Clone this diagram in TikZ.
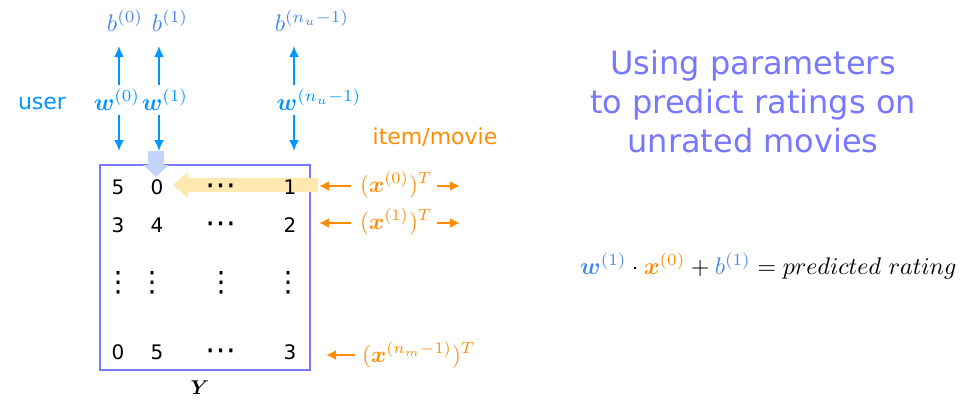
\RequirePackage{fix-cm}
\documentclass[tikz,border=0pt]{standalone}
\usepackage{amsmath,bm}
\usepackage{graphicx}
\usepackage{fontspec}
\setmainfont{DejaVu Sans}
\usetikzlibrary{arrows.meta}
\definecolor{ublue}{RGB}{0,150,255}
\definecolor{bblue}{RGB}{70,135,240}
\definecolor{orng}{RGB}{255,140,0}
\definecolor{boxc}{RGB}{120,120,255}
\definecolor{ttl}{RGB}{120,120,255}
\definecolor{ylw}{RGB}{255,232,175}
\definecolor{lblue}{RGB}{195,212,250}
\newcommand{\mz}[2][2.4]{\scalebox{#1}{$#2$}}
\begin{document}
\begin{tikzpicture}[x=1pt,y=-1pt,
 barrow/.style={ublue,line width=2pt,-{Latex[length=11pt,width=10pt]}},
 oarrow/.style={orng,line width=2pt,-{Latex[length=10pt,width=10pt]}},
 num/.style={font=\fontsize{20}{22}\selectfont,inner sep=0pt,anchor=base},
 dotc/.style={font=\fontsize{31}{33}\selectfont,inner sep=0pt,anchor=base},
 dotv/.style={font=\fontsize{28}{30}\selectfont,inner sep=0pt},
 wlab/.style={text=ublue,inner sep=0pt},
 blab/.style={text=bblue,inner sep=0pt},
 xlab/.style={text=orng,inner sep=0pt,anchor=west},
]
\useasboundingbox (0,0) rectangle (968,405);

% bias labels
\node[blab] (b0) at (125,21) {\mz{b^{(0)}}};
\node[blab] (b1) at (170,21) {\mz{b^{(1)}}};
\node[blab] (bn) at (312,21) {\mz{b^{(n_u-1)}}};
% weight labels
\node[wlab] (w0) at (117,100) {\mz{\bm{w}^{(0)}}};
\node[wlab] (w1) at (165,100) {\mz{\bm{w}^{(1)}}};
\node[wlab] (wn) at (319,100) {\mz{\bm{w}^{(n_u-1)}}};
\node[text=ublue,font=\fontsize{22}{26}\selectfont,inner sep=0pt] (user) at (42,103) {user};

% arrow end points
\foreach \n/\x in {0/119,1/159,n/294}{
  \coordinate (us\n) at (\x,85);
  \coordinate (ue\n) at (\x,46);
  \coordinate (ds\n) at (\x,115);
  \coordinate (de\n) at (\x,151);
}
\foreach \n in {0,1,n}{
  \draw[barrow] (us\n) -- (ue\n);
  \draw[barrow] (ds\n) -- (de\n);
}

% matrix box
\node[draw=boxc,line width=2pt,minimum width=210pt,minimum height=205pt,inner sep=0pt] (Y) at (204.5,267.5) {};

% highlight arrows
\fill[ylw] (318,178) -- (188,178) -- (188,172) -- (173,185) -- (188,198) -- (188,192) -- (318,192) -- cycle;
\fill[lblue] (148,151) rectangle (164,165);
\fill[lblue] (143,165) -- (169,165) -- (156,177) -- cycle;

% matrix entries
\node[num] (m00) at (118,194) {5};
\node[num] (m01) at (157,194) {0};
\node[dotc] (m02) at (221,195) {⋯};
\node[num] (m03) at (290,194) {1};
\node[num] (m10) at (118,232) {3};
\node[num] (m11) at (157,232) {4};
\node[dotc] (m12) at (221,233) {⋯};
\node[num] (m13) at (290,232) {2};
\node[dotv] (m20) at (118,283) {⋮};
\node[dotv] (m21) at (152,283) {⋮};
\node[dotv] (m22) at (221,283) {⋮};
\node[dotv] (m23) at (288,283) {⋮};
\node[num] (m30) at (118,359) {0};
\node[num] (m31) at (157,359) {5};
\node[dotc] (m32) at (221,360) {⋯};
\node[num] (m33) at (290,359) {3};
\node[inner sep=0pt] (ylab) at (200,388) {\mz[2.0]{\bm{Y}}};

% item vectors
\node[text=orng,font=\fontsize{22}{26}\selectfont,inner sep=0pt] (item) at (435,137) {item/movie};
\node[xlab] (x0) at (360,185) {\mz[2.3]{(\bm{x}^{(0)})^T}};
\node[xlab] (x1) at (360,222) {\mz[2.3]{(\bm{x}^{(1)})^T}};
\node[xlab] (xn) at (362,355) {\mz[2.3]{(\bm{x}^{(n_m-1)})^T}};
\coordinate (l0s) at (351,186); \coordinate (l0e) at (319,186);
\coordinate (r0s) at (437,186); \coordinate (r0e) at (460,186);
\coordinate (l1s) at (351,223); \coordinate (l1e) at (319,223);
\coordinate (r1s) at (437,223); \coordinate (r1e) at (460,223);
\coordinate (lns) at (355,355); \coordinate (lne) at (326,355);
\draw[oarrow] (l0s) -- (l0e);
\draw[oarrow] (r0s) -- (r0e);
\draw[oarrow] (l1s) -- (l1e);
\draw[oarrow] (r1s) -- (r1e);
\draw[oarrow] (lns) -- (lne);

% title
\node[text=ttl,font=\fontsize{32}{39}\selectfont,align=center] (title) at (753,102) {Using parameters\\to predict ratings on\\unrated movies};

% equation
\node[anchor=west,inner sep=0pt] (eq) at (580,266) {\mz{\textcolor{bblue}{\bm{w}^{(1)}}\cdot\textcolor{orng}{\bm{x}^{(0)}}+\textcolor{bblue}{b^{(1)}}=\mathnormal{predicted}\ \mathnormal{rating}}};
\end{tikzpicture}
\end{document}
